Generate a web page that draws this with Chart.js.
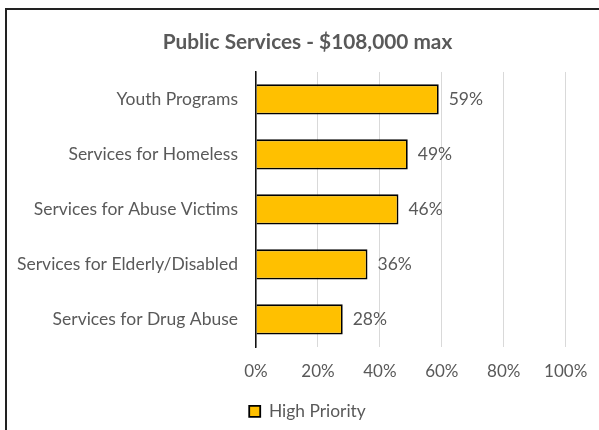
<!DOCTYPE html>
<html>
<head>
<meta charset="utf-8">
<script src="https://cdn.jsdelivr.net/npm/chart.js@4"></script>
<style>
  html, body { margin: 0; padding: 0; background: #fff; overflow: hidden; }
  #wrap { position: relative; width: 599px; height: 430px; overflow: hidden; }
  #barChart { position: absolute; left: 0; top: 0; }
</style>
</head>
<body>
<div id="wrap"><canvas id="barChart" width="601" height="430"></canvas></div>
<script>
const services = [
    'Youth Programs',
    'Services for Homeless',
    'Services for Abuse Victims',
    'Services for Elderly/Disabled',
    'Services for Drug Abuse'
];
const highPriority = [59, 49, 46, 36, 28];
const xTicks = [0, 20, 40, 60, 80, 100];

const textColor = '#595959';
const fontFamily = 'Lato';

// frame around the chart
const framePlugin = {
    id: 'frame',
    beforeDraw(chart) {
        const ctx = chart.ctx;
        ctx.save();
        ctx.fillStyle = '#fff';
        ctx.fillRect(0, 0, chart.width, chart.height);
        ctx.fillStyle = '#222';
        ctx.fillRect(5, 8, chart.width - 5, 2);
        ctx.fillRect(5, 8, 2, chart.height - 8);
        ctx.restore();
    }
};

// percentage labels at the end of each bar
const valueLabels = {
    id: 'valueLabels',
    afterDatasetsDraw(chart) {
        const ctx = chart.ctx;
        const meta = chart.getDatasetMeta(0);
        ctx.save();
        ctx.font = '17.5px ' + fontFamily;
        ctx.fillStyle = textColor;
        ctx.textAlign = 'left';
        ctx.textBaseline = 'middle';
        meta.data.forEach((bar, i) => {
            ctx.fillText(highPriority[i] + '%', bar.x + 10, bar.y);
        });
        ctx.restore();
    }
};

const ctx = document.getElementById('barChart').getContext('2d');
new Chart(ctx, {
    type: 'bar',
    data: {
        labels: services,
        datasets: [{
            label: 'High Priority',
            data: highPriority,
            backgroundColor: '#FFC000',
            borderColor: '#000',
            borderWidth: 1.8,
            barPercentage: 0.55,
            categoryPercentage: 1
        }]
    },
    options: {
        indexAxis: 'y',
        responsive: false,
        animation: false,
        layout: {
            padding: { top: 0, left: 14, right: 0, bottom: 0 }
        },
        plugins: {
            title: {
                display: true,
                text: 'Public Services - $108,000 max',
                color: textColor,
                font: { family: fontFamily, size: 20.8, weight: 'bold' },
                padding: { top: 30, bottom: 17 }
            },
            legend: {
                display: true,
                position: 'bottom',
                labels: {
                    color: textColor,
                    font: { family: fontFamily, size: 17.4 },
                    boxWidth: 11,
                    boxHeight: 11,
                    padding: 8.5
                }
            },
            tooltip: { enabled: false }
        },
        scales: {
            x: {
                min: 0,
                max: 100,
                afterBuildTicks: scale => {
                    scale.ticks = xTicks.map(v => ({ value: v }));
                },
                afterFit: scale => {
                    scale.height = 47.1;
                    scale.paddingRight = 35.3;
                },
                grid: { color: '#d9d9d9', lineWidth: 1, drawTicks: false },
                border: { display: false },
                ticks: {
                    color: textColor,
                    font: { family: fontFamily, size: 17 },
                    padding: 14.5,
                    callback: v => v + '%'
                }
            },
            y: {
                afterFit: scale => { scale.width = 256 - 14; },
                grid: { display: false, drawTicks: false },
                border: { display: true, color: '#111', width: 1.5, z: 1 },
                ticks: {
                    color: textColor,
                    font: { family: fontFamily, size: 17.5 },
                    padding: 18
                }
            }
        }
    },
    plugins: [framePlugin, valueLabels]
});
</script>
</body>
</html>
